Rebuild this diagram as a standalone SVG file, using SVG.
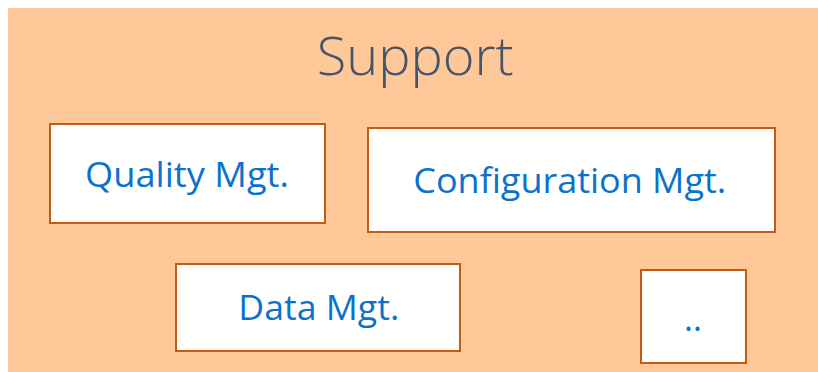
<svg xmlns="http://www.w3.org/2000/svg" width="818" height="372" viewBox="0 0 818 372">
<style>
.box{fill:#FFFFFF;stroke:#C55A11;stroke-width:2}
.lbl{font-family:"Open Sans","Liberation Sans",sans-serif;font-size:34px;fill:#0B72CC}
.title{font-family:"Open Sans","Liberation Sans",sans-serif;font-size:53px;fill:#44546A;font-weight:300}
</style>
<rect x="8" y="8" width="810" height="364" fill="#FFC899"/>
<g id="title"><text class="title" x="316.7" y="75" textLength="197" lengthAdjust="spacingAndGlyphs">Support</text></g>
<g id="quality"><rect class="box" x="50" y="124" width="275" height="99"/><text class="lbl" x="85" y="186.7" textLength="204" lengthAdjust="spacingAndGlyphs">Quality Mgt.</text></g>
<g id="configuration"><rect class="box" x="368" y="128" width="407" height="104"/><text class="lbl" x="413.3" y="193.3" textLength="313" lengthAdjust="spacingAndGlyphs">Configuration Mgt.</text></g>
<g id="data"><rect class="box" x="176" y="264" width="284" height="87"/><text class="lbl" x="238.3" y="320" textLength="161" lengthAdjust="spacingAndGlyphs">Data Mgt.</text></g>
<g id="more"><rect class="box" x="641" y="270" width="105" height="93"/><text class="lbl" x="693" y="331" text-anchor="middle">..</text></g>
<g id="connectors"></g>
</svg>
